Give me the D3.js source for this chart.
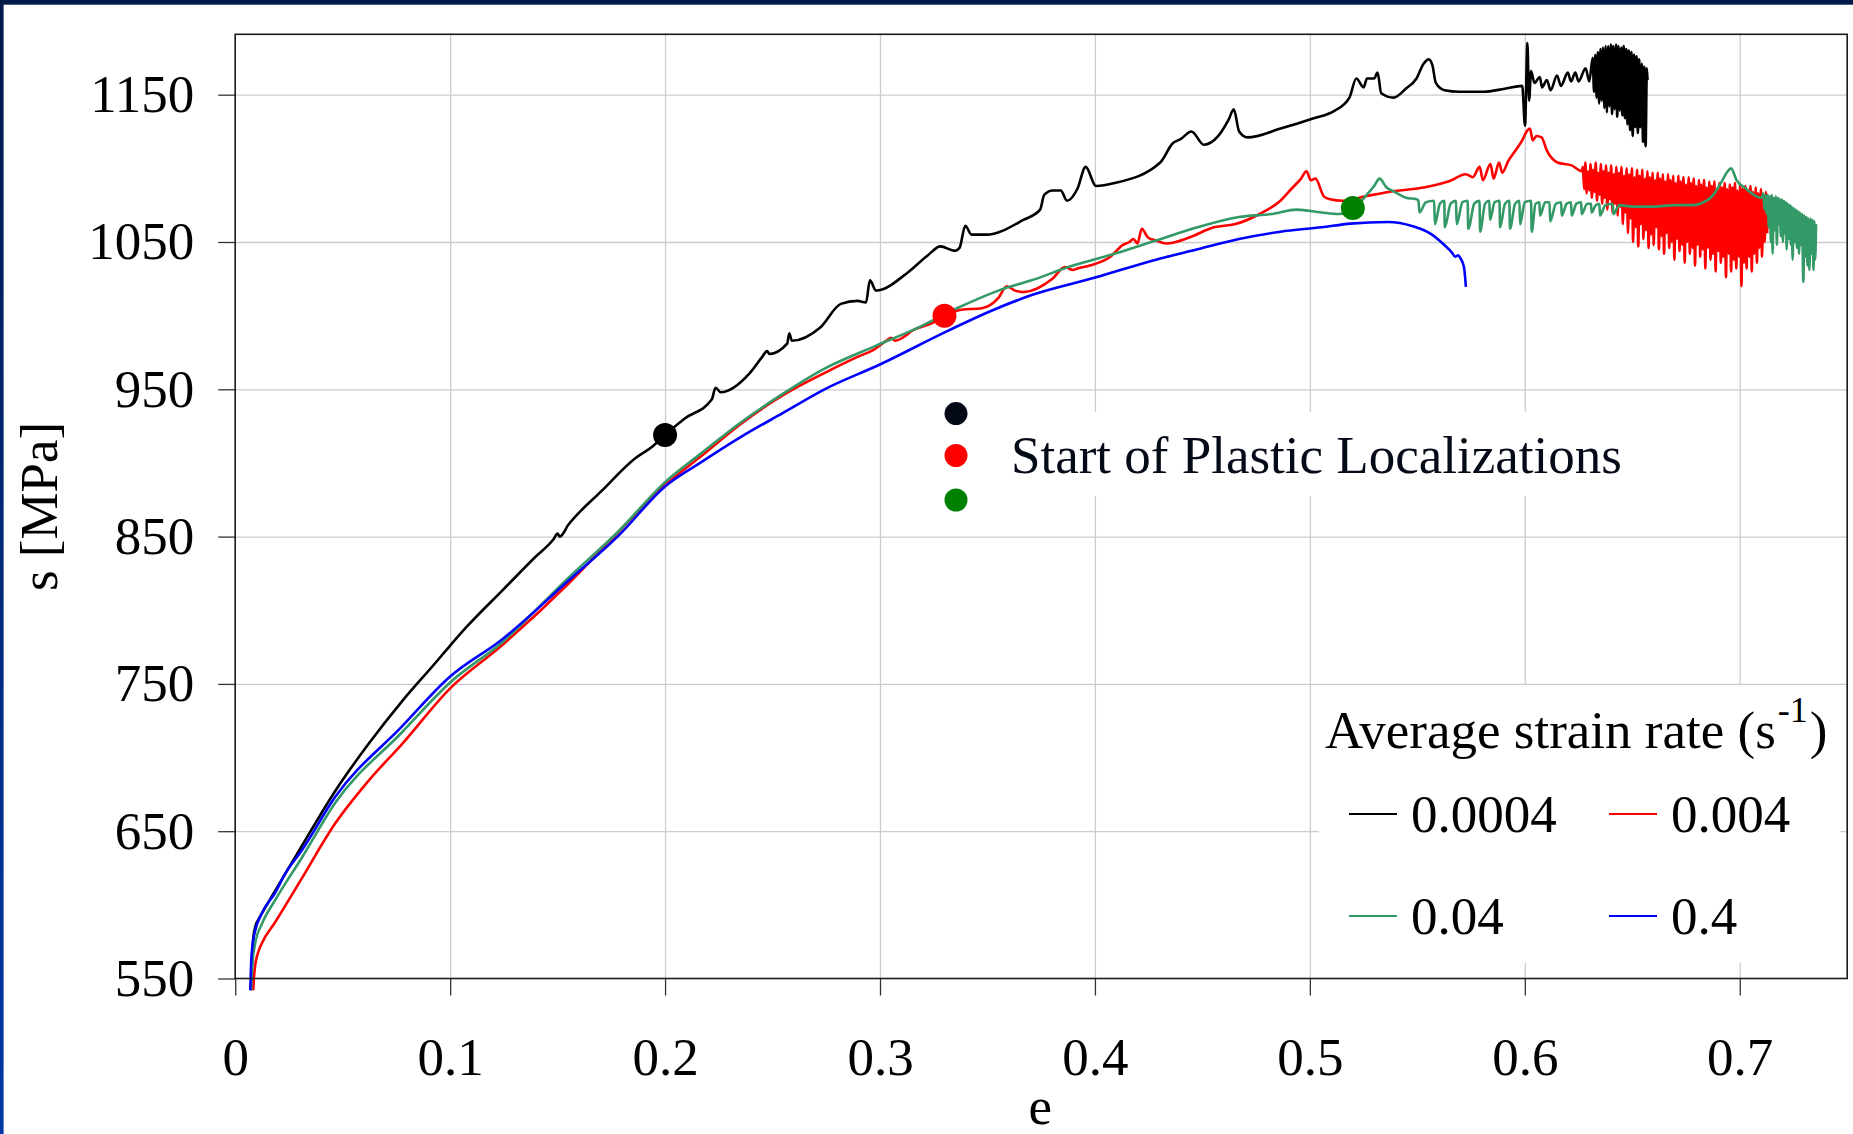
<!DOCTYPE html>
<html lang="en">

<head>
    <meta charset="UTF-8">
    <title>Stress-strain curves, D3.js</title>
    <style>
        html, body {
            width: 100%;
            height: 100%;
            overflow: hidden;
            padding: 0;
            margin: 0;
            background: #fff;
        }
        #stage {
            width: 1853px;
            height: 1134px;
        }
        svg text {
            font-family: 'Liberation Serif', 'Times New Roman', serif;
        }
    </style>
</head>

<body>
    <div id="stage"></div>

    <script src="https://d3js.org/d3.v7.min.js"></script>

    <script>
        // ticks
        const xTicks = [0, 0.1, 0.2, 0.3, 0.4, 0.5, 0.6, 0.7];
        const xTickLabels = ['0', '0.1', '0.2', '0.3', '0.4', '0.5', '0.6', '0.7'];
        const yTicks = [550, 650, 750, 850, 950, 1050, 1150];
        const yTickLabels = ['550', '650', '750', '850', '950', '1050', '1150'];

        // legend
        const rates = ['0.0004', '0.004', '0.04', '0.4'];
        const colors = ['#000000', '#ff0000', '#339966', '#0000ff'];

        // [strain, stress MPa]
        const rate0004 = [
            [0.0074, 542], [0.0078, 560], [0.0084, 577], [0.0095, 586], [0.0108, 590], [0.0139, 598],
            [0.020, 613], [0.031, 640], [0.0464, 677], [0.0619, 709], [0.0775, 738], [0.093, 764],
            [0.1, 776], [0.1085, 790], [0.124, 813], [0.1395, 836], [0.148, 848], [0.150, 852],
            [0.151, 850], [0.155, 858], [0.1705, 881], [0.186, 903], [0.194, 911], [0.2, 919],
            [0.209, 930], [0.2217, 943], [0.2235, 951], [0.2259, 948], [0.2394, 961], [0.2452, 972],
            [0.2475, 976], [0.2485, 974], [0.2568, 981], [0.2578, 988], [0.2590, 983], [0.2722, 992],
            [0.2818, 1008], [0.2895, 1010], [0.2935, 1009], [0.2953, 1024], [0.2982, 1017], [0.3127, 1029],
            [0.3223, 1041], [0.3281, 1047], [0.3349, 1044], [0.3370, 1046], [0.3397, 1061], [0.3426, 1055],
            [0.3494, 1055], [0.3667, 1065], [0.3745, 1072], [0.3764, 1082], [0.3803, 1085], [0.3841, 1085],
            [0.387, 1078], [0.3918, 1086], [0.3957, 1101], [0.4005, 1088], [0.4092, 1090], [0.4304, 1104],
            [0.4362, 1117], [0.4400, 1120], [0.4449, 1125], [0.4507, 1116], [0.4574, 1122], [0.4622, 1133],
            [0.4646, 1140], [0.4671, 1125], [0.4709, 1121], [0.4864, 1127], [0.5018, 1134], [0.5114, 1139],
            [0.5184, 1148], [0.5216, 1161], [0.5250, 1155], [0.5266, 1161], [0.5299, 1161], [0.5315, 1165],
            [0.5332, 1151], [0.539, 1148], [0.5446, 1154], [0.5496, 1161], [0.5529, 1171], [0.5553, 1174],
            [0.557, 1170], [0.5586, 1158], [0.5627, 1153], [0.5693, 1152], [0.5807, 1152], [0.5906, 1154],
            [0.5988, 1156], [0.6001, 1129], [0.6012, 1185], [0.6020, 1146], [0.6029, 1166], [0.6045, 1158],
            [0.6070, 1162], [0.6080, 1155], [0.6103, 1160], [0.6120, 1153], [0.6150, 1163], [0.6168, 1156],
            [0.6200, 1165], [0.6215, 1159], [0.6235, 1165], [0.6250, 1159], [0.6283, 1168], [0.6300, 1159],
            [0.6316, 1175], [0.6322, 1152], [0.6328, 1177], [0.6334, 1148], [0.6340, 1179], [0.6346, 1144],
            [0.6352, 1181], [0.6358, 1146], [0.6364, 1182], [0.6370, 1141], [0.6376, 1183], [0.6382, 1138],
            [0.6388, 1183], [0.6394, 1142], [0.6400, 1184], [0.6406, 1137], [0.6412, 1183], [0.6418, 1140],
            [0.6424, 1184], [0.6430, 1135], [0.6436, 1183], [0.6442, 1139], [0.6448, 1182], [0.6454, 1136],
            [0.6460, 1183], [0.6466, 1134], [0.6472, 1181], [0.6478, 1130], [0.6484, 1180], [0.6490, 1126],
            [0.6496, 1179], [0.6502, 1122], [0.6508, 1177], [0.6514, 1128], [0.6520, 1176], [0.6526, 1124],
            [0.6532, 1174], [0.6538, 1128], [0.6544, 1171], [0.6550, 1118], [0.6556, 1169], [0.6562, 1115],
            [0.6568, 1168], [0.6571, 1160]
        ];

        const rate004 = [
            [0.0084, 542], [0.0088, 552], [0.0093, 559], [0.0105, 567], [0.0124, 574], [0.0185, 588],
            [0.031, 618], [0.0464, 655], [0.0619, 684], [0.0775, 709], [0.1, 747], [0.124, 776],
            [0.155, 818], [0.175, 848], [0.2, 885], [0.2163, 904], [0.2357, 927], [0.2549, 946],
            [0.2741, 961], [0.2895, 972], [0.2972, 977], [0.3030, 983], [0.3051, 985], [0.3070, 983],
            [0.3166, 991], [0.3243, 995], [0.3301, 1000], [0.3378, 1004], [0.3474, 1005], [0.3551, 1012],
            [0.359, 1020], [0.3628, 1017], [0.3667, 1016], [0.3802, 1025], [0.386, 1033], [0.3898, 1031],
            [0.3918, 1032], [0.3976, 1034], [0.4072, 1040], [0.4130, 1048], [0.4160, 1050], [0.4179, 1052],
            [0.4198, 1049], [0.4218, 1059], [0.4247, 1053], [0.4284, 1051], [0.4332, 1049], [0.4438, 1053],
            [0.4554, 1060], [0.465, 1062], [0.4766, 1069], [0.4863, 1078], [0.492, 1087], [0.4959, 1093],
            [0.4984, 1098], [0.5005, 1092], [0.5026, 1093], [0.5065, 1081], [0.5094, 1079], [0.5152, 1078],
            [0.5258, 1081], [0.5365, 1084], [0.553, 1087], [0.5644, 1091], [0.5726, 1096], [0.5758, 1094],
            [0.5790, 1101], [0.5805, 1092], [0.5840, 1103], [0.5855, 1093], [0.5880, 1104], [0.5895, 1097],
            [0.5923, 1105], [0.5956, 1112], [0.5988, 1119], [0.6013, 1126], [0.6024, 1127], [0.6037, 1119],
            [0.6054, 1122], [0.6078, 1121], [0.6103, 1112], [0.6152, 1104], [0.6218, 1102], [0.6250, 1099],
            [0.6265, 1098],
            [0.6270, 1101], [0.6276, 1086], [0.6282, 1104], [0.6288, 1083], [0.6294, 1098], [0.6300, 1085],
            [0.6306, 1103], [0.6312, 1080], [0.6318, 1099], [0.6324, 1084], [0.6330, 1104], [0.6336, 1078],
            [0.6342, 1097], [0.6348, 1082], [0.6354, 1103], [0.6360, 1076], [0.6366, 1098], [0.6372, 1080],
            [0.6378, 1102], [0.6384, 1072], [0.6390, 1097], [0.6396, 1079], [0.6402, 1102], [0.6408, 1070],
            [0.6414, 1096], [0.6420, 1076], [0.6426, 1101], [0.6432, 1068], [0.6438, 1097], [0.6444, 1074],
            [0.6450, 1101], [0.6456, 1062], [0.6462, 1095], [0.6468, 1070], [0.6474, 1100], [0.6480, 1056],
            [0.6486, 1096], [0.6492, 1066], [0.6498, 1100], [0.6504, 1050], [0.6510, 1094], [0.6516, 1060],
            [0.6522, 1099], [0.6528, 1047], [0.6534, 1095], [0.6540, 1062], [0.6546, 1099], [0.6552, 1052],
            [0.6558, 1093], [0.6564, 1058], [0.6570, 1098], [0.6576, 1046], [0.6582, 1094], [0.6588, 1055],
            [0.6594, 1097], [0.6600, 1048], [0.6606, 1092], [0.6612, 1060], [0.6618, 1097], [0.6624, 1045],
            [0.6630, 1093], [0.6636, 1054], [0.6642, 1096], [0.6648, 1042], [0.6654, 1091], [0.6660, 1056],
            [0.6666, 1096], [0.6672, 1046], [0.6678, 1092], [0.6684, 1050], [0.6690, 1095], [0.6696, 1038],
            [0.6702, 1090], [0.6708, 1052], [0.6714, 1095], [0.6720, 1044], [0.6726, 1091], [0.6732, 1048],
            [0.6738, 1094], [0.6744, 1036], [0.6750, 1089], [0.6756, 1050], [0.6762, 1094], [0.6768, 1042],
            [0.6774, 1090], [0.6780, 1046], [0.6786, 1093], [0.6792, 1034], [0.6798, 1088], [0.6804, 1048],
            [0.6810, 1092], [0.6816, 1040], [0.6822, 1089], [0.6828, 1045], [0.6834, 1092], [0.6840, 1032],
            [0.6846, 1087], [0.6852, 1046], [0.6858, 1091], [0.6864, 1038], [0.6870, 1088], [0.6876, 1042],
            [0.6882, 1091], [0.6888, 1030], [0.6894, 1086], [0.6900, 1044], [0.6906, 1090], [0.6912, 1036],
            [0.6918, 1087], [0.6924, 1040], [0.6930, 1090], [0.6936, 1026], [0.6942, 1086], [0.6948, 1042],
            [0.6954, 1089], [0.6960, 1030], [0.6966, 1087], [0.6972, 1038], [0.6978, 1090], [0.6984, 1032],
            [0.6990, 1085], [0.6996, 1040], [0.7002, 1089], [0.7008, 1020], [0.7014, 1086], [0.7020, 1036],
            [0.7026, 1088], [0.7032, 1032], [0.7038, 1085], [0.7044, 1040], [0.7050, 1088], [0.7056, 1030],
            [0.7062, 1084], [0.7068, 1042], [0.7074, 1087], [0.7080, 1036], [0.7086, 1083], [0.7092, 1046],
            [0.7098, 1086], [0.7104, 1040], [0.7110, 1082], [0.7116, 1050], [0.7122, 1084], [0.7128, 1056]
        ];

        const rate04 = [
            [0.0074, 542], [0.0078, 556], [0.0093, 574], [0.0124, 587], [0.0185, 603], [0.031, 632],
            [0.0464, 669], [0.0775, 717], [0.1, 751], [0.124, 778], [0.155, 822], [0.1786, 854],
            [0.2, 887], [0.2163, 906], [0.2357, 928], [0.2549, 947], [0.2742, 964], [0.2972, 979],
            [0.3165, 991], [0.3358, 1005], [0.3551, 1017], [0.3705, 1024], [0.3898, 1034], [0.4091, 1042],
            [0.4284, 1051], [0.4477, 1060], [0.467, 1067], [0.4824, 1069], [0.4939, 1072], [0.5055, 1070],
            [0.5132, 1069], [0.5188, 1070], [0.5258, 1081], [0.5299, 1088], [0.5324, 1093], [0.5357, 1087],
            [0.5381, 1085], [0.5419, 1082], [0.5447, 1080], [0.5497, 1079],
            [0.5505, 1078], [0.5510, 1070], [0.5540, 1077], [0.5578, 1078], [0.5582, 1062], [0.5605, 1076],
            [0.5625, 1078], [0.5628, 1060], [0.5655, 1076], [0.5680, 1078], [0.5683, 1062], [0.5710, 1077],
            [0.5734, 1078], [0.5737, 1059], [0.5765, 1076], [0.5789, 1078], [0.5792, 1057], [0.5815, 1076],
            [0.5835, 1078], [0.5838, 1065], [0.5860, 1077], [0.5882, 1078], [0.5885, 1060], [0.5908, 1076],
            [0.5928, 1078], [0.5931, 1059], [0.5955, 1076], [0.5975, 1078], [0.5978, 1062], [0.6000, 1077],
            [0.6029, 1078], [0.6032, 1057], [0.6050, 1076], [0.6068, 1077], [0.6071, 1068], [0.6095, 1077],
            [0.6115, 1077], [0.6118, 1064], [0.6145, 1076], [0.6169, 1077], [0.6172, 1068], [0.6195, 1076],
            [0.6215, 1077], [0.6218, 1068], [0.6240, 1076], [0.6262, 1077], [0.6265, 1069], [0.6290, 1076],
            [0.6308, 1076], [0.6311, 1070], [0.6330, 1075], [0.6347, 1076], [0.6350, 1068], [0.6375, 1075],
            [0.6409, 1076], [0.6412, 1069], [0.6440, 1075], [0.6500, 1074], [0.6600, 1074], [0.6700, 1075],
            [0.6780, 1075], [0.6815, 1076], [0.6877, 1082], [0.6916, 1091], [0.6939, 1097], [0.6960, 1100],
            [0.6985, 1092], [0.7031, 1086], [0.7078, 1081], [0.7102, 1080],
            [0.7110, 1083], [0.7115, 1072], [0.7120, 1082], [0.7125, 1069], [0.7130, 1082], [0.7135, 1060],
            [0.7140, 1081], [0.7145, 1050], [0.7149, 1082], [0.7153, 1042], [0.7158, 1080], [0.7163, 1058],
            [0.7168, 1081], [0.7173, 1048], [0.7178, 1080], [0.7183, 1062], [0.7187, 1079], [0.7191, 1054],
            [0.7196, 1079], [0.7201, 1050], [0.7206, 1078], [0.7211, 1056], [0.7216, 1077], [0.7218, 1045],
            [0.7224, 1076], [0.7229, 1052], [0.7234, 1075], [0.7238, 1048], [0.7242, 1074], [0.7246, 1038],
            [0.7251, 1073], [0.7256, 1050], [0.7261, 1072], [0.7266, 1046], [0.7271, 1071], [0.7276, 1042],
            [0.7280, 1070], [0.7285, 1048], [0.7290, 1069], [0.7296, 1023], [0.7301, 1068], [0.7306, 1040],
            [0.7311, 1067], [0.7315, 1034], [0.7319, 1066], [0.7324, 1031], [0.7329, 1066], [0.7334, 1042],
            [0.7339, 1065], [0.7343, 1031], [0.7347, 1064], [0.7351, 1038], [0.7355, 1062]
        ];

        const rate4 = [
            [0.0070, 542], [0.0074, 560], [0.0080, 572], [0.0092, 582], [0.0123, 594], [0.0185, 608],
            [0.0232, 621], [0.031, 637], [0.0464, 673], [0.0775, 721], [0.1, 755], [0.124, 780],
            [0.155, 820], [0.1786, 851], [0.2, 884], [0.2163, 900], [0.2357, 918], [0.2549, 934],
            [0.2742, 950], [0.3002, 967], [0.332, 990], [0.3513, 1003], [0.3706, 1014], [0.4005, 1026],
            [0.4284, 1038], [0.4477, 1045], [0.467, 1052], [0.4863, 1057], [0.5055, 1060], [0.5188, 1062.5],
            [0.5364, 1063.6], [0.5479, 1060.7], [0.5561, 1055.7], [0.5627, 1047.8], [0.5660, 1043], [0.5676, 1040],
            [0.5690, 1041], [0.5701, 1038.8], [0.5717, 1033], [0.5726, 1019.5]
        ];

        const series = [rate0004, rate004, rate04, rate4];

        // start of plastic localizations
        const locStrain = [0.2, 0.33, 0.52];
        const locStress = [919, 1000, 1073];
        const locColors = ['#000000', '#ff0000', '#008000'];
        const noteColors = ['#030817', '#ff0000', '#008000'];

        const W = 1853, H = 1134;
        const plotL = 235.2, plotR = 1847.2, plotT = 34.3, plotB = 978.5;
        const FS = 53;

        const svg = d3.select('#stage').append('svg')
            .attr('width', W)
            .attr('height', H);

        // slide border (top bar + left bar)
        const grad = svg.append('defs').append('linearGradient')
            .attr('id', 'side').attr('x1', 0).attr('y1', 0).attr('x2', 0).attr('y2', 1);
        grad.append('stop').attr('offset', 0).attr('stop-color', '#00184a');
        grad.append('stop').attr('offset', 1).attr('stop-color', '#0038a8');
        svg.append('rect').attr('x', 0).attr('y', 0).attr('width', 3.6).attr('height', H).attr('fill', 'url(#side)');
        svg.append('rect').attr('x', 0).attr('y', 0).attr('width', W).attr('height', 4.7).attr('fill', '#001a48');

        const x = d3.scaleLinear().domain([0, 0.75]).range([plotL, plotR]);
        const y = d3.scaleLinear().domain([550, 1191]).range([plotB, plotT]);

        // grid
        svg.append('g')
            .attr('transform', `translate(0, ${plotB})`)
            .call(d3.axisBottom(x).tickValues(xTicks.slice(1)).tickSize(-(plotB - plotT)).tickFormat(''))
            .call(g => g.select('.domain').remove())
            .selectAll('line').attr('stroke', '#cccccc').attr('stroke-width', 1.3);
        svg.append('g')
            .attr('transform', `translate(${plotL}, 0)`)
            .call(d3.axisLeft(y).tickValues(yTicks.slice(1)).tickSize(-(plotR - plotL)).tickFormat(''))
            .call(g => g.select('.domain').remove())
            .selectAll('line').attr('stroke', '#cccccc').attr('stroke-width', 1.3);

        // white boxes behind legend and note
        svg.append('rect').attr('x', 1319).attr('y', 685).attr('width', 521).attr('height', 278).attr('fill', '#fff');
        svg.append('rect').attr('x', 995).attr('y', 412).attr('width', 655).attr('height', 84).attr('fill', '#fff');

        // axes
        const xAxis = svg.append('g')
            .attr('transform', `translate(0, ${plotB})`)
            .call(d3.axisBottom(x).tickValues(xTicks).tickSize(17).tickPadding(42)
                .tickFormat((d, i) => xTickLabels[i]));
        const yAxis = svg.append('g')
            .attr('transform', `translate(${plotL}, 0)`)
            .call(d3.axisLeft(y).tickValues(yTicks).tickSize(17).tickPadding(24)
                .tickFormat((d, i) => yTickLabels[i]));
        [xAxis, yAxis].forEach(a => {
            a.select('.domain').remove();
            a.attr('font-family', null).attr('font-size', null);
            a.selectAll('line').attr('stroke', '#333').attr('stroke-width', 1.3);
            a.selectAll('text').attr('font-size', FS).attr('fill', '#000');
        });

        // curves
        const line = d3.line()
            .x(d => x(d[0]))
            .y(d => y(d[1]))
            .curve(d3.curveMonotoneX);
        svg.append('g').selectAll('path')
            .data(series)
            .join('path')
            .attr('d', line)
            .attr('fill', 'none')
            .attr('stroke', (d, i) => colors[i])
            .attr('stroke-width', 2.6)
            .attr('stroke-linejoin', 'round');

        // frame
        svg.append('rect')
            .attr('x', plotL).attr('y', plotT)
            .attr('width', plotR - plotL).attr('height', plotB - plotT)
            .attr('fill', 'none').attr('stroke', '#1a1a1a').attr('stroke-width', 1.6);

        // localization markers
        svg.append('g').selectAll('circle')
            .data(locStrain)
            .join('circle')
            .attr('cx', d => x(d))
            .attr('cy', (d, i) => y(locStress[i]))
            .attr('r', 12)
            .attr('fill', (d, i) => locColors[i]);

        // note
        svg.append('g').selectAll('circle')
            .data(noteColors)
            .join('circle')
            .attr('cx', 956)
            .attr('cy', (d, i) => [413.6, 455.5, 500][i])
            .attr('r', 11.5)
            .attr('fill', d => d);
        svg.append('text')
            .attr('x', 1011).attr('y', 473)
            .attr('font-size', FS).attr('fill', '#050a18')
            .text('Start of Plastic Localizations');

        // legend
        const title = svg.append('text').attr('x', 1325).attr('y', 748).attr('font-size', FS);
        title.append('tspan').text('Average strain rate (s');
        title.append('tspan').attr('font-size', 36).attr('dy', -26).attr('dx', 2).text('-1');
        title.append('tspan').attr('dy', 26).attr('dx', 2).text(')');

        const lg = svg.append('g').selectAll('g')
            .data(rates)
            .join('g')
            .attr('transform', (d, i) => `translate(${i % 2 ? 1609 : 1349}, ${i < 2 ? 814 : 916})`);
        lg.append('line')
            .attr('x1', 0).attr('x2', 48)
            .attr('stroke', (d, i) => colors[i]).attr('stroke-width', 2.2);
        lg.append('text')
            .attr('x', 62).attr('y', 18)
            .attr('font-size', FS)
            .text(d => d);

        // axis titles
        svg.append('text')
            .attr('transform', `translate(57, ${(plotT + plotB) / 2}) rotate(-90)`)
            .attr('text-anchor', 'middle')
            .attr('font-size', FS)
            .text('s [MPa]');
        svg.append('text')
            .attr('x', (plotL + plotR) / 2 - 1).attr('y', 1124)
            .attr('text-anchor', 'middle')
            .attr('font-size', FS)
            .text('e');
    </script>

</body>

</html>
